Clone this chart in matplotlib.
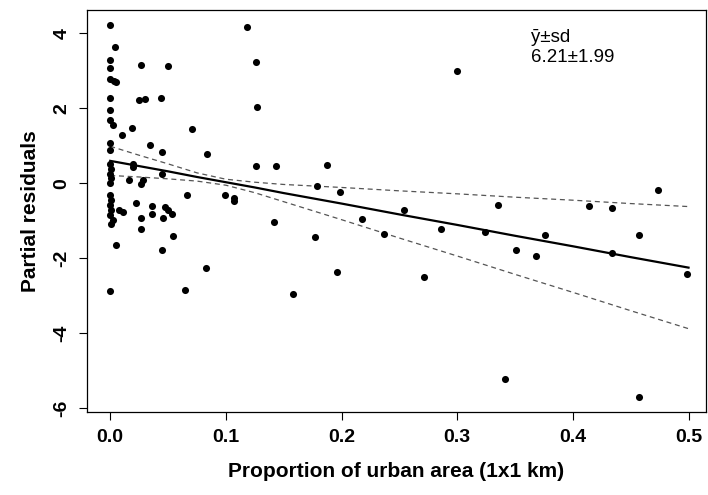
import matplotlib
matplotlib.use("Agg")
import matplotlib.pyplot as plt

# partial residuals
urban = [0.000, 0.004, 0.000, 0.000, 0.000, 0.003, 0.005, 0.000, 0.000, 0.000, 0.002,
         0.027, 0.050, 0.025, 0.030, 0.044, 0.019, 0.010, 0.071, 0.034, 0.045, 0.084,
         0.000, 0.000, 0.126, 0.118, 0.127, 0.126, 0.020, 0.020, 0.045,
         0.000, 0.001, 0.000, 0.001, 0.000, 0.016, 0.028, 0.027, 0.066, 0.099, 0.107, 0.107,
         0.000, 0.001, 0.000, 0.001, 0.000, 0.002, 0.001, 0.008, 0.011, 0.022,
         0.036, 0.036, 0.047, 0.050, 0.053, 0.027, 0.046, 0.027, 0.054, 0.005, 0.045,
         0.083, 0.000, 0.065,
         0.300, 0.143, 0.187, 0.179, 0.199, 0.142, 0.177, 0.196, 0.158, 0.218, 0.237,
         0.254, 0.271, 0.286,
         0.324, 0.335, 0.341, 0.351, 0.368, 0.376, 0.414, 0.434, 0.434, 0.457, 0.457,
         0.474, 0.499]
resid = [4.23, 3.65, 3.28, 3.08, 2.79, 2.72, 2.70, 2.27, 1.96, 1.68, 1.55,
         3.17, 3.14, 2.23, 2.26, 2.27, 1.48, 1.30, 1.44, 1.03, 0.84, 0.79,
         1.07, 0.88, 3.23, 4.17, 2.03, 0.46, 0.52, 0.43, 0.26,
         0.52, 0.39, 0.26, 0.13, 0.00, 0.10, 0.08, -0.03, -0.32, -0.32, -0.38, -0.47,
         -0.32, -0.45, -0.59, -0.72, -0.85, -0.99, -1.08, -0.72, -0.76, -0.52,
         -0.61, -0.83, -0.63, -0.72, -0.83, -0.92, -0.92, -1.21, -1.41, -1.65, -1.79,
         -2.26, -2.87, -2.85,
         2.99, 0.46, 0.50, -0.08, -0.23, -1.03, -1.43, -2.36, -2.96, -0.96, -1.35,
         -0.72, -2.50, -1.23,
         -1.30, -0.59, -5.21, -1.79, -1.95, -1.39, -0.60, -0.67, -1.86, -1.39, -5.71,
         -0.19, -2.43]

# fitted line and confidence band (read values)
fit_x = [0.0, 0.025, 0.05, 0.075, 0.1, 0.125, 0.15, 0.2, 0.25, 0.3, 0.35, 0.4, 0.45, 0.5]
fit_y = [0.60, 0.46, 0.32, 0.17, 0.03, -0.11, -0.26, -0.54, -0.83, -1.11, -1.40, -1.68, -1.97, -2.25]
upper = [0.99, 0.75, 0.52, 0.28, 0.11, 0.03, -0.03, -0.11, -0.20, -0.28, -0.37, -0.45, -0.54, -0.62]
lower = [0.21, 0.17, 0.12, 0.06, -0.05, -0.25, -0.49, -0.97, -1.46, -1.94, -2.43, -2.91, -3.40, -3.88]

xticks = [0.0, 0.1, 0.2, 0.3, 0.4, 0.5]
yticks = [-6, -4, -2, 0, 2, 4]

plt.rcParams['font.family'] = ['Liberation Sans', 'DejaVu Sans']

fig = plt.figure(figsize=(7.08, 4.95), dpi=100)
ax = fig.add_axes([0.123, 0.168, 0.874, 0.812])

ax.scatter(urban, resid, s=26, color='black', zorder=3, linewidths=0)
ax.plot(fit_x, fit_y, color='black', lw=1.6)
ax.plot(fit_x, upper, color='#555555', lw=0.9, ls=(0, (4, 3)))
ax.plot(fit_x, lower, color='#555555', lw=0.9, ls=(0, (4, 3)))

ax.set_xlim(-0.02, 0.515)
ax.set_ylim(-6.1, 4.63)
ax.set_xticks(xticks)
ax.set_xticklabels(['%.1f' % t for t in xticks], fontsize=14, fontweight='bold')
ax.set_yticks(yticks)
ax.set_yticklabels([str(t) for t in yticks], fontsize=14, fontweight='bold',
                   rotation=90, va='center')
ax.tick_params(direction='out', length=6, width=0.8, pad=6)

ax.set_xlabel('Proportion of urban area (1x1 km)', fontsize=15, fontweight='bold', labelpad=12)
ax.set_ylabel('Partial residuals', fontsize=15, fontweight='bold', labelpad=10)

ax.text(0.364, 4.12, 'ȳ±sd\n6.21±1.99', fontsize=13.5, ha='left', va='top', linespacing=1.25)

for sp in ax.spines.values():
    sp.set_linewidth(0.9)

fig.savefig('out.png', dpi=100)
